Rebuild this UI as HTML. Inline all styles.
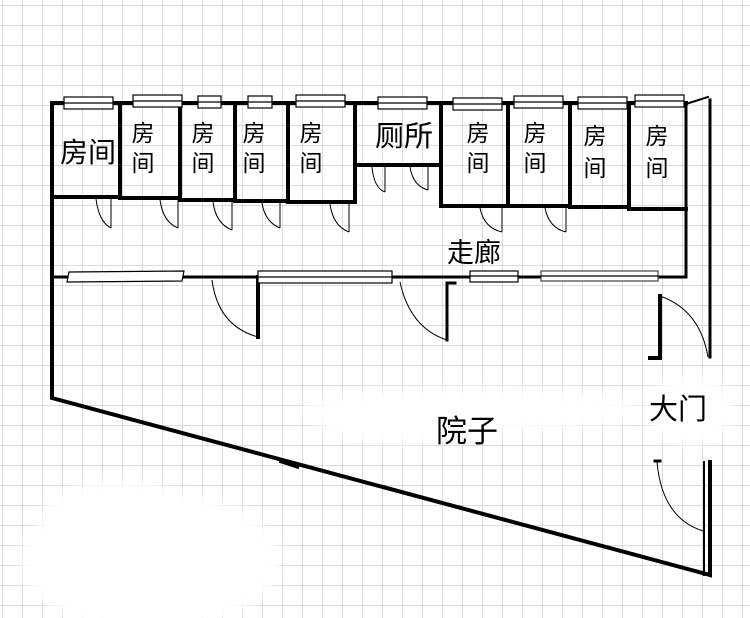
<!DOCTYPE html>
<html><head><meta charset="utf-8"><style>
html,body{margin:0;padding:0;background:#fff;}
svg{display:block;}
text{font-family:"Liberation Sans","Noto Sans CJK SC",sans-serif;fill:#000;}
</style></head><body>
<svg width="750" height="618" viewBox="0 0 750 618" xmlns="http://www.w3.org/2000/svg">
<defs>
<pattern id="g" x="2" y="5" width="20" height="20" patternUnits="userSpaceOnUse">
<path d="M0 0H20M0 0V20" stroke="#b8b8b8" stroke-width="1" fill="none"/>
</pattern>
<filter id="bl"><feGaussianBlur stdDeviation="6"/></filter>
</defs>
<rect width="750" height="618" fill="#fff"/>
<rect width="750" height="618" fill="url(#g)"/>
<g fill="#fff" filter="url(#bl)">
<ellipse cx="150" cy="560" rx="130" ry="70"/>
<ellipse cx="120" cy="520" rx="80" ry="40"/>
<ellipse cx="470" cy="410" rx="170" ry="22"/>
<ellipse cx="400" cy="425" rx="80" ry="18"/>
<ellipse cx="690" cy="410" rx="45" ry="35"/>
</g>
<g stroke="#000" fill="none" stroke-linecap="square">
<path d="M52 103V398L710 575V462" stroke-width="4"/>
<path d="M52 103H686" stroke-width="4"/>
<path d="M686 104L708 97" stroke-width="2"/>
<path d="M710 100V357" stroke-width="3"/>
<path d="M686 103V277H52" stroke-width="3"/>
<path d="M52 197H120V103M120 198H180V103M180 200H235V103M235 201H288V103M288 202H355V103" stroke-width="4"/>
<path d="M355 103V165H441V103M441 103V206H508V103M508 206H570V103M570 103V207H629V103M629 103V209H686" stroke-width="4"/>
<path d="M258 277V337" stroke-width="4"/>
<path d="M447 340V283H455" stroke-width="3"/>
<path d="M660 296V358H650" stroke-width="4"/>
<path d="M655 461H660" stroke-width="3"/>
<path d="M704 462V575M711 462V575" stroke-width="2"/>
<path d="M282 461L297 466" stroke-width="5"/>
</g>
<g stroke="#000" fill="none" stroke-width="1">
<path d="M111 197V228"/><path d="M96 199Q99 222 111 228"/>
<path d="M178 198V228"/><path d="M160 200Q163 222 178 228"/>
<path d="M232 200V230"/><path d="M213 202Q216 224 232 230"/>
<path d="M280 201V228"/><path d="M262 203Q265 222 280 228"/>
<path d="M349 202V232"/><path d="M330 204Q333 226 349 232"/>
<path d="M385 165V192"/><path d="M372 167Q374 188 385 192"/>
<path d="M428 165V190"/><path d="M410 167Q413 186 428 190"/>
<path d="M502 206V232"/><path d="M480 208Q484 228 502 232"/>
<path d="M566 206V232"/><path d="M545 208Q549 228 566 232"/>
<path d="M212 280Q218 326 258 337"/>
<path d="M400 282Q410 328 447 340"/>
<path d="M660 296Q700 310 708 357"/>
<path d="M657 462Q662 518 703 531"/>
</g>
<g fill="#fff" stroke="#000" stroke-width="1.2">
<rect x="64" y="97" width="49" height="12"/><line x1="64" y1="103" x2="113" y2="103"/>
<rect x="133" y="95" width="49" height="12"/><line x1="133" y1="101" x2="182" y2="101"/>
<rect x="198" y="96" width="23" height="12"/><line x1="198" y1="102" x2="221" y2="102"/>
<rect x="248" y="96" width="24" height="12"/><line x1="248" y1="102" x2="272" y2="102"/>
<rect x="296" y="95" width="49" height="12"/><line x1="296" y1="101" x2="345" y2="101"/>
<rect x="378" y="97" width="49" height="12"/><line x1="378" y1="103" x2="427" y2="103"/>
<rect x="453" y="98" width="49" height="12"/><line x1="453" y1="104" x2="502" y2="104"/>
<rect x="514" y="96" width="49" height="12"/><line x1="514" y1="102" x2="563" y2="102"/>
<rect x="578" y="97" width="49" height="12"/><line x1="578" y1="103" x2="627" y2="103"/>
<rect x="635" y="95" width="49" height="12"/><line x1="635" y1="101" x2="684" y2="101"/>
<polygon points="69,272 184,271 182,281 67,282"/>
<rect x="258" y="271" width="134" height="12"/><line x1="258" y1="277" x2="392" y2="277"/>
<rect x="470" y="271" width="48" height="11"/><line x1="470" y1="276" x2="518" y2="276"/>
<rect x="541" y="271" width="117" height="10" stroke="#444"/><line x1="541" y1="276" x2="658" y2="276"/>
</g>
<text x="88" y="162" font-size="28" text-anchor="middle">房间</text>
<g font-size="23" text-anchor="middle">
<text x="143" y="141">房</text><text x="143" y="171">间</text>
<text x="203" y="141">房</text><text x="203" y="171">间</text>
<text x="254" y="141">房</text><text x="254" y="171">间</text>
<text x="311" y="141">房</text><text x="311" y="171">间</text>
<text x="478" y="141">房</text><text x="478" y="171">间</text>
<text x="535" y="141">房</text><text x="535" y="171">间</text>
<text x="595" y="144">房</text><text x="595" y="176">间</text>
<text x="657" y="144">房</text><text x="657" y="176">间</text>
</g>
<text x="404" y="146" font-size="29" text-anchor="middle">厕所</text>
<text x="474" y="262" font-size="27" text-anchor="middle">走廊</text>
<text x="467" y="442" font-size="31" text-anchor="middle">院子</text>
<text x="678" y="419" font-size="29" text-anchor="middle">大门</text>
</svg>
</body></html>
